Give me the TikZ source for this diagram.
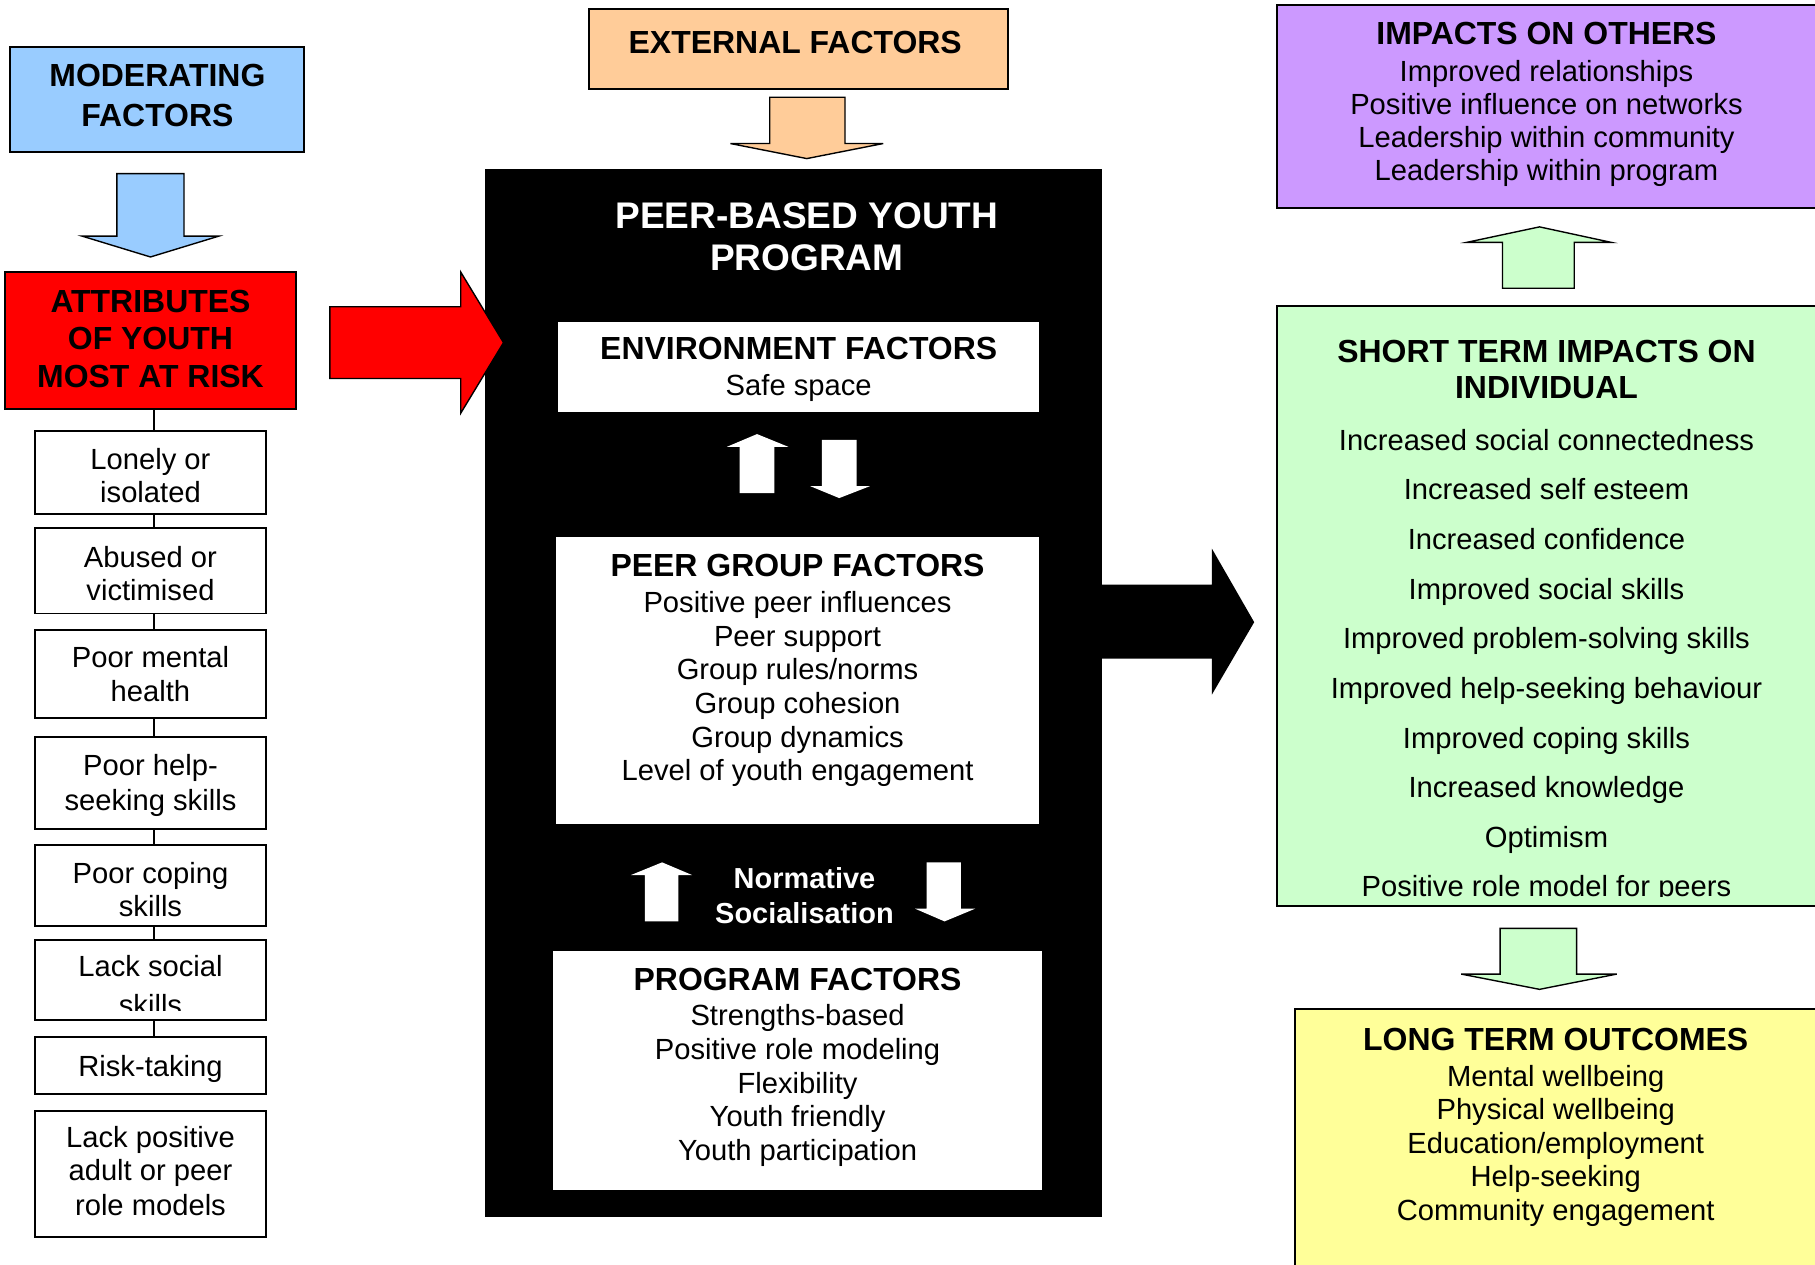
\documentclass[tikz,border=0pt]{standalone}
\usepackage{fontspec}
\setmainfont{Liberation Sans}
\usetikzlibrary{fit}
\definecolor{cblue}{HTML}{99CCFF}
\definecolor{cred}{HTML}{FF0000}
\definecolor{corange}{HTML}{FFCC99}
\definecolor{cpurple}{HTML}{CC99FF}
\definecolor{cgreen}{HTML}{CCFFCC}
\definecolor{cyellow}{HTML}{FFFF99}
\begin{document}
\begin{tikzpicture}[x=0.5pt,y=-0.5pt,
  frame/.style={draw=black,line width=0.85pt,inner sep=0pt},
  plain/.style={inner sep=0pt},
  txt/.style={inner sep=0pt,text height=9pt,text depth=0pt,font=\fontsize{12.6}{15}\selectfont},
  hdr/.style={inner sep=0pt,text height=9.9pt,text depth=0pt,font=\fontsize{13.8}{16}\selectfont\bfseries},
  ttl/.style={inner sep=0pt,text height=11.5pt,text depth=0pt,font=\fontsize{16}{19}\selectfont\bfseries,text=white},
  nrm/.style={inner sep=0pt,text height=8.95pt,text depth=0pt,font=\fontsize{12.5}{15}\selectfont\bfseries,text=white},
  blk/.style={draw=black,line width=0.6pt,line join=miter},
  link/.style={draw=black,line width=0.6pt}]
\clip (0,0) rectangle (1568,1092);
\fill[white] (0,0) rectangle (1568,1092);

% ---------------- left column ----------------
\node[frame,fill=cblue,fit={(9,41)(263,131)}] (mod) {};
\node[hdr] (modt1) at (136,65) {MODERATING};
\node[hdr] (modt2) at (136,99) {FACTORS};
\draw[blk,fill=cblue] (101,150) -- (159,150) -- (159,204) -- (189,204) -- (130,222) -- (71,204) -- (101,204) -- cycle;

\node[frame,fill=cred,fit={(4,235)(256,353)}] (risk) {};
\node[hdr] (riskt1) at (130,260) {ATTRIBUTES};
\node[hdr] (riskt2) at (130,292) {OF YOUTH};
\node[hdr] (riskt3) at (130,325) {MOST AT RISK};

\foreach \n/\ya/\yb in {1/372/444, 2/456/530, 3/544/620, 4/637/716, 5/730/800, 6/812/881, 7/896/945, 8/960/1069}
  \node[frame,fit={(30,\ya)(230,\yb)}] (lb\n) {};
\foreach \a/\b in {risk/lb1, lb1/lb2, lb2/lb3, lb3/lb4, lb4/lb5, lb5/lb6, lb6/lb7}
  \draw[link] ([xshift=1.5pt]\a.south) -- ([xshift=1.5pt]\b.north);

\node[txt] (l1a) at (130,397) {Lonely or};
\node[txt] (l1b) at (130,425) {isolated};
\node[txt] (l2a) at (130,481) {Abused or};
\node[txt] (l2b) at (130,510) {victimised};
\node[txt] (l3a) at (130,568) {Poor mental};
\node[txt] (l3b) at (130,597) {health};
\node[txt] (l4a) at (130,661) {Poor help-};
\node[txt] (l4b) at (130,691) {seeking skills};
\node[txt] (l5a) at (130,754) {Poor coping};
\node[txt] (l5b) at (130,783) {skills};
\node[txt] (l6a) at (130,835) {Lack social};
\begin{scope}
  \clip (30,812) rectangle (230,872.6);
  \node[txt] (l6b) at (130,868) {skills};
\end{scope}
\node[txt] (l7a) at (130,921) {Risk-taking};
\node[txt] (l8a) at (130,982) {Lack positive};
\node[txt] (l8b) at (130,1011) {adult or peer};
\node[txt] (l8c) at (130,1041) {role models};

% ---------------- centre column ----------------
\node[frame,fill=corange,fit={(509,8)(871,77)}] (ext) {};
\node[hdr] (extt) at (687,36) {EXTERNAL FACTORS};
\draw[blk,fill=corange] (665,84) -- (730,84) -- (730,124) -- (763,124) -- (697,137) -- (631,124) -- (665,124) -- cycle;

\node[plain,fill=black,fit={(419,146)(952,1051)}] (prog) {};
\node[ttl] (progt1) at (697,186) {PEER-BASED YOUTH};
\node[ttl] (progt2) at (697,222) {PROGRAM};

% red arrow into the program
\draw[blk,fill=cred] (285,265) -- (398,265) -- (398,235) -- (435,296) -- (398,357) -- (398,327) -- (285,327) -- cycle;

\node[plain,fill=white,fit={(482,278)(898,356)}] (env) {};
\node[hdr] (envt) at (690,301) {ENVIRONMENT FACTORS};
\node[txt] (envs) at (690,333) {Safe space};

\fill[white] (639,426) -- (669,426) -- (669,386) -- (681,386) -- (654,375) -- (628,386) -- (639,386) -- cycle;
\fill[white] (710,380) -- (740,380) -- (740,420) -- (751.5,420) -- (725,430.3) -- (700,420) -- (710,420) -- cycle;

\node[plain,fill=white,fit={(480,464)(898,712)}] (peer) {};
\node[hdr] (peert) at (689,488) {PEER GROUP FACTORS};
\foreach \t [count=\i] in {Positive peer influences, Peer support, Group rules/norms, Group cohesion, Group dynamics, Level of youth engagement}
  \node[txt] (pg\i) at (689,{520+(\i-1)*29.1}) {\t};

\fill[white] (557,796) -- (586,796) -- (586,756) -- (598,756) -- (572,745) -- (545,756) -- (557,756) -- cycle;
\fill[white] (800.5,745) -- (830,745) -- (830,785) -- (842.5,785) -- (816,796) -- (790.5,785) -- (800.5,785) -- cycle;
\node[nrm] (norm1) at (695,759) {Normative};
\node[nrm] (norm2) at (695,788.5) {Socialisation};

\node[plain,fill=white,fit={(478,822)(900,1028)}] (pf) {};
\node[hdr] (pft) at (689,846) {PROGRAM FACTORS};
\foreach \t [count=\i] in {Strengths-based, Positive role modeling, Flexibility, Youth friendly, Youth participation}
  \node[txt] (pf\i) at (689,{876.7+(\i-1)*29.3}) {\t};

\fill[black] (952,505) -- (1047,505) -- (1047,474) -- (1083.5,537.5) -- (1047,600) -- (1047,569) -- (952,569) -- cycle;

% ---------------- right column ----------------
\node[frame,fill=cpurple,fit={(1103,4)(1580,180)}] (oth) {};
\node[hdr] (otht) at (1336,28.5) {IMPACTS ON OTHERS};
\foreach \t [count=\i] in {Improved relationships, Positive influence on networks, Leadership within community, Leadership within program}
  \node[txt] (ot\i) at (1336,{61+(\i-1)*28.7}) {\t};

\draw[blk,fill=cgreen] (1298,249) -- (1360,249) -- (1360,209.4) -- (1392,209.4) -- (1330,196) -- (1267,209.4) -- (1298,209.4) -- cycle;

\node[frame,fill=cgreen,fit={(1103,264)(1580,783)}] (ind) {};
\node[hdr] (indt1) at (1336,303) {SHORT TERM IMPACTS ON};
\node[hdr] (indt2) at (1336,334) {INDIVIDUAL};
\foreach \t [count=\i] in {Increased social connectedness, Increased self esteem, Increased confidence, Improved social skills, Improved problem-solving skills, Improved help-seeking behaviour, Improved coping skills, Increased knowledge, Optimism}
  \node[txt] (in\i) at (1336,{380+(\i-1)*42.9}) {\t};
\begin{scope}
  \clip (1103,264) rectangle (1580,774.5);
  \node[txt] (in10) at (1336,765.5) {Positive role model for peers};
\end{scope}

\draw[blk,fill=cgreen] (1296,802) -- (1362,802) -- (1362,841.5) -- (1396.8,841.5) -- (1330,854.7) -- (1262.3,841.5) -- (1296,841.5) -- cycle;

\node[frame,fill=cyellow,fit={(1119,872)(1580,1110)}] (lto) {};
\node[hdr] (ltot) at (1344,898) {LONG TERM OUTCOMES};
\foreach \t [count=\i] in {Mental wellbeing, Physical wellbeing, Education/employment, Help-seeking, Community engagement}
  \node[txt] (lt\i) at (1344,{929.3+(\i-1)*29}) {\t};
\end{tikzpicture}
\end{document}
